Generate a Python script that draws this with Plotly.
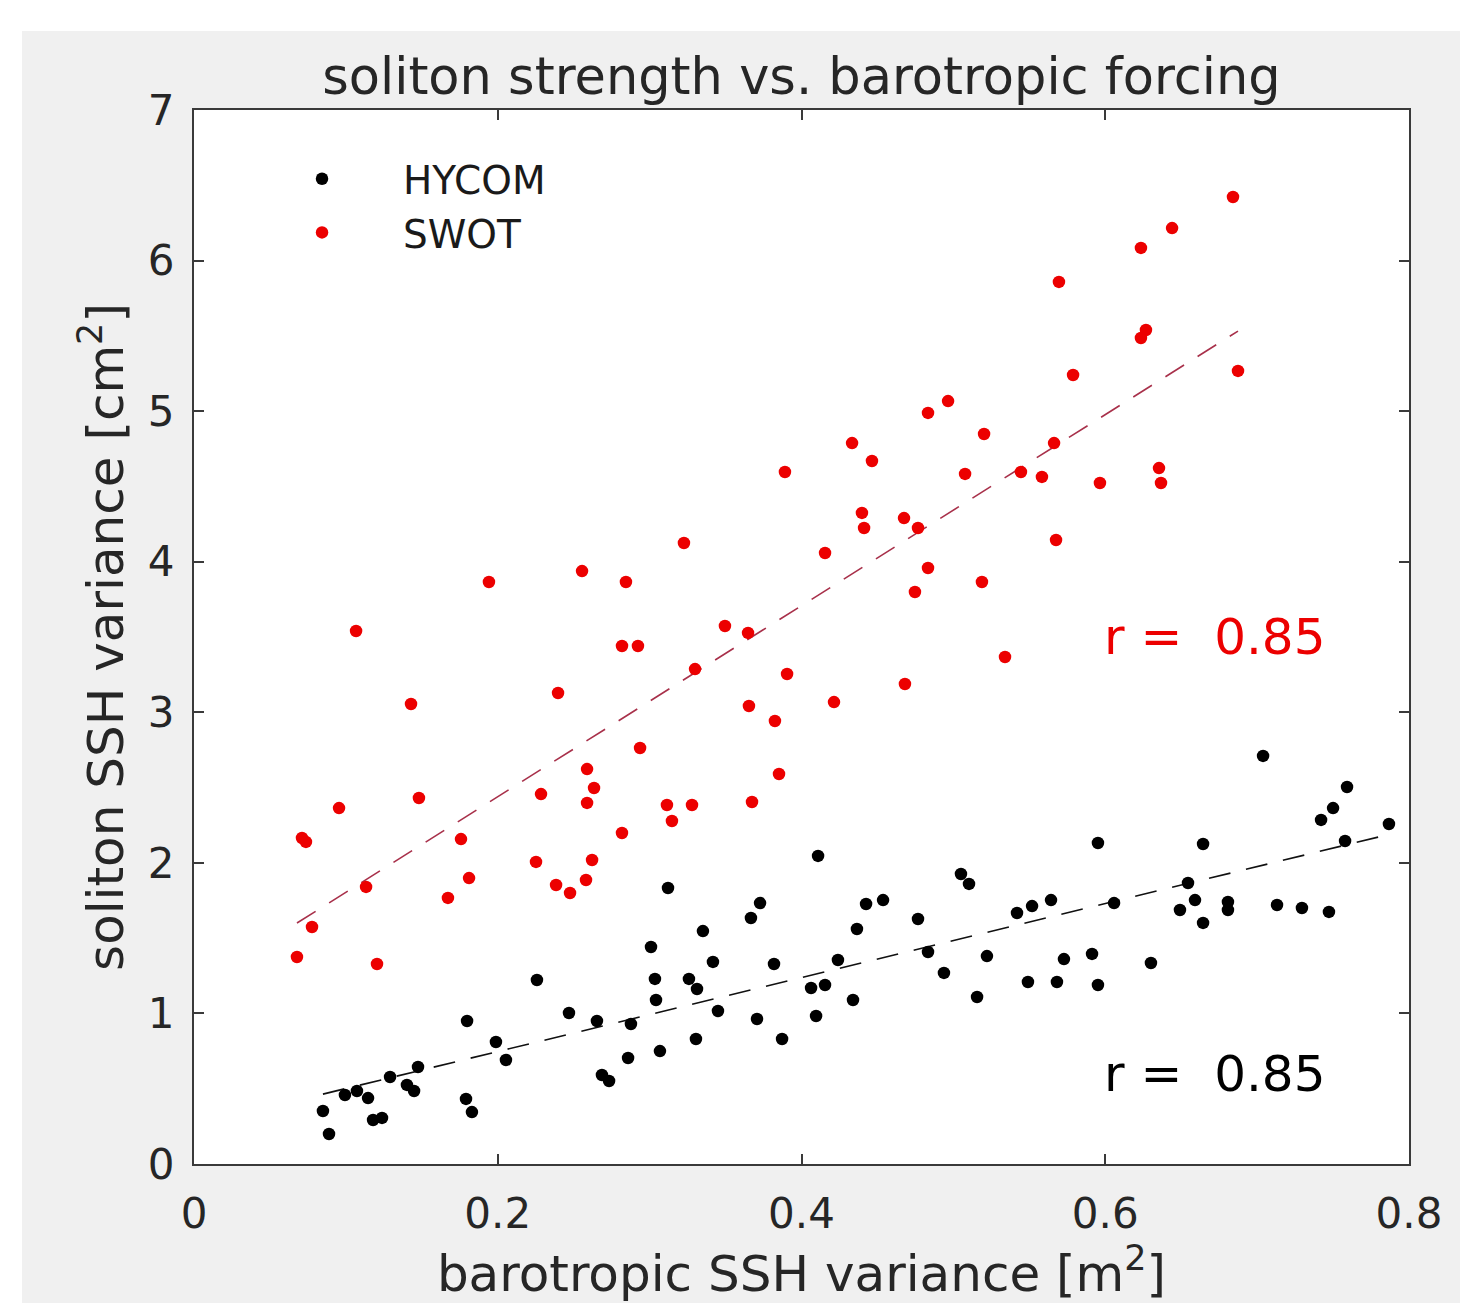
import numpy as np
import plotly.graph_objects as go

# barotropic SSH variance [m^2] vs soliton SSH variance [cm^2]
swot_x = [0.0678, 0.0711, 0.0737, 0.0777, 0.0955, 0.1067, 0.1133, 0.1205, 0.1429, 0.1481,
          0.1672, 0.1758, 0.1811, 0.1942, 0.2252, 0.2285, 0.2397, 0.2384, 0.2476, 0.2555,
          0.2588, 0.2588, 0.2634, 0.2581, 0.2621, 0.2818, 0.2818, 0.2844, 0.2923, 0.2937,
          0.3114, 0.3147, 0.3226, 0.3299, 0.3279, 0.3496, 0.3648, 0.3654, 0.3674, 0.3825,
          0.3852, 0.3891, 0.3905, 0.4214, 0.4155, 0.4333, 0.4398, 0.4412, 0.4464, 0.4675,
          0.4681, 0.4747, 0.4767, 0.4833, 0.4833, 0.4965, 0.5077, 0.5188, 0.5202, 0.5340,
          0.5445, 0.5583, 0.5663, 0.5676, 0.5695, 0.5788, 0.5965, 0.6235, 0.6235, 0.6268,
          0.6354, 0.6367, 0.6440, 0.6841, 0.6874]
swot_y = [1.375, 2.165, 2.139, 1.574, 2.364, 3.540, 1.840, 1.328, 3.055, 2.431,
          1.767, 2.158, 1.899, 3.865, 2.006, 2.457, 3.128, 1.853, 1.800, 3.938,
          2.623, 2.398, 2.497, 1.886, 2.019, 2.198, 3.440, 3.865, 3.440, 2.763,
          2.384, 2.278, 4.124, 3.287, 2.384, 3.573, 3.527, 3.042, 2.404, 2.942,
          2.590, 4.596, 3.254, 3.068, 4.058, 4.788, 4.324, 4.224, 4.669, 4.290,
          3.188, 3.799, 4.224, 3.958, 4.988, 5.067, 4.583, 3.865, 4.848, 3.367,
          4.596, 4.563, 4.788, 4.144, 5.858, 5.240, 4.523, 6.084, 5.486, 5.539,
          4.622, 4.523, 6.216, 6.422, 5.267]

hycom_x = [0.0849, 0.0889, 0.0994, 0.1073, 0.1146, 0.1179, 0.1238, 0.1291, 0.1402, 0.1449,
           0.1475, 0.1791, 0.1830, 0.1798, 0.1988, 0.2054, 0.2258, 0.2469, 0.2653, 0.2686,
           0.2733, 0.2858, 0.2877, 0.3009, 0.3035, 0.3042, 0.3068, 0.3121, 0.3259, 0.3312,
           0.3305, 0.3351, 0.3417, 0.3450, 0.3667, 0.3707, 0.3727, 0.3819, 0.3872, 0.4063,
           0.4096, 0.4109, 0.4155, 0.4240, 0.4339, 0.4365, 0.4425, 0.4537, 0.4767, 0.4833,
           0.4938, 0.5050, 0.5103, 0.5156, 0.5221, 0.5419, 0.5491, 0.5518, 0.5643, 0.5682,
           0.5728, 0.5913, 0.5952, 0.5952, 0.6058, 0.6301, 0.6492, 0.6545, 0.6591, 0.6644,
           0.6644, 0.6808, 0.6808, 0.7039, 0.7131, 0.7295, 0.7421, 0.7473, 0.7500, 0.7579,
           0.7592, 0.7868]
hycom_y = [0.352, 0.199, 0.458, 0.485, 0.438, 0.292, 0.306, 0.578, 0.525, 0.485,
           0.644, 0.432, 0.345, 0.950, 0.810, 0.691, 1.222, 1.003, 0.950, 0.591,
           0.551, 0.704, 0.930, 1.441, 1.229, 1.089, 0.750, 1.833, 1.229, 1.162,
           0.830, 1.547, 1.342, 1.016, 1.634, 0.963, 1.733, 1.328, 0.830, 1.169,
           0.983, 2.046, 1.189, 1.355, 1.089, 1.561, 1.727, 1.753, 1.627, 1.408,
           1.269, 1.926, 1.860, 1.109, 1.381, 1.667, 1.209, 1.713, 1.753, 1.209,
           1.361, 1.395, 1.189, 2.132, 1.733, 1.335, 1.687, 1.866, 1.753, 2.125,
           1.601, 1.740, 1.687, 2.710, 1.720, 1.700, 2.285, 1.674, 2.364, 2.145,
           2.504, 2.258]

series_names = ["HYCOM", "SWOT"]
r_labels = ["r =\u00a0\u00a00.85", "r =\u00a0\u00a00.85"]
x_ticks = [0, 0.2, 0.4, 0.6, 0.8]
y_ticks = [0, 1, 2, 3, 4, 5, 6, 7]

FONT = "DejaVu Sans"
TXT = "#262626"
RED = "#ec0000"


def fit_line(x, y):
    x = np.asarray(x)
    y = np.asarray(y)
    slope, icpt = np.polyfit(x, y, 1)
    xs = np.array([x.min(), x.max()])
    return xs, slope * xs + icpt


fig = go.Figure()

hx, hy = fit_line(hycom_x, hycom_y)
sx, sy = fit_line(swot_x, swot_y)

fig.add_trace(go.Scatter(x=hx, y=hy, mode="lines", showlegend=False,
                         line=dict(color="#111111", width=1.6, dash="22px,16px"),
                         hoverinfo="skip"))
fig.add_trace(go.Scatter(x=sx, y=sy, mode="lines", showlegend=False,
                         line=dict(color="#a8304a", width=1.6, dash="22px,16px"),
                         hoverinfo="skip"))

fig.add_trace(go.Scatter(x=hycom_x, y=hycom_y, mode="markers", name=series_names[0],
                         marker=dict(color="black", size=12.5, line=dict(width=0))))
fig.add_trace(go.Scatter(x=swot_x, y=swot_y, mode="markers", name=series_names[1],
                         marker=dict(color=RED, size=12.5, line=dict(width=0))))

# correlation labels
fig.add_annotation(x=0.598, y=3.50, xref="x", yref="y", text=r_labels[1],
                   showarrow=False, xanchor="left", yanchor="middle",
                   font=dict(family=FONT, size=50, color=RED))
fig.add_annotation(x=0.598, y=0.60, xref="x", yref="y", text=r_labels[0],
                   showarrow=False, xanchor="left", yanchor="middle",
                   font=dict(family=FONT, size=50, color="black"))

# white border strips outside the gray figure area
fig.add_shape(type="rect", xref="paper", yref="paper", x0=-0.17, x1=-0.1416,
              y0=-0.2, y1=1.2, fillcolor="white", line_width=0, layer="below")
fig.add_shape(type="rect", xref="paper", yref="paper", x0=-0.2, x1=1.1,
              y0=1.0750, y1=1.2, fillcolor="white", line_width=0, layer="below")

axis_common = dict(
    showgrid=False, zeroline=False, showline=True, linecolor="#3a3a3a", linewidth=2,
    mirror="ticks", ticks="inside", ticklen=10, tickwidth=2, tickcolor="#3a3a3a",
    tickfont=dict(family=FONT, size=42, color=TXT),
)

fig.update_xaxes(range=[0, 0.8], tickvals=x_ticks, ticktext=[f"{v:g}" for v in x_ticks],
                 ticklabelstandoff=12,
                 title=dict(text="barotropic SSH variance [m<sup>2</sup>]",
                            font=dict(family=FONT, size=50, color=TXT), standoff=14),
                 **axis_common)
fig.update_yaxes(range=[0, 7], tickvals=y_ticks, ticktext=[str(v) for v in y_ticks],
                 ticklabelstandoff=9,
                 title=dict(text="soliton SSH variance [cm<sup>2</sup>]",
                            font=dict(family=FONT, size=50, color=TXT), standoff=8),
                 **axis_common)

fig.update_layout(
    width=1460, height=1303,
    margin=dict(l=194, r=51, t=110, b=139, autoexpand=False),
    paper_bgcolor="#f0f0f0", plot_bgcolor="white",
    title=dict(text="soliton strength vs. barotropic forcing", x=0.5, xref="paper",
               y=1 - 76 / 1303, yref="container", yanchor="middle", xanchor="center",
               font=dict(family=FONT, size=51, color=TXT)),
    legend=dict(x=0.0387, y=0.9650, xanchor="left", yanchor="top",
                bgcolor="rgba(0,0,0,0)", borderwidth=0, itemwidth=152,
                font=dict(family=FONT, size=39, color="#1a1a1a")),
    showlegend=True,
)

fig.write_html("out.html")
